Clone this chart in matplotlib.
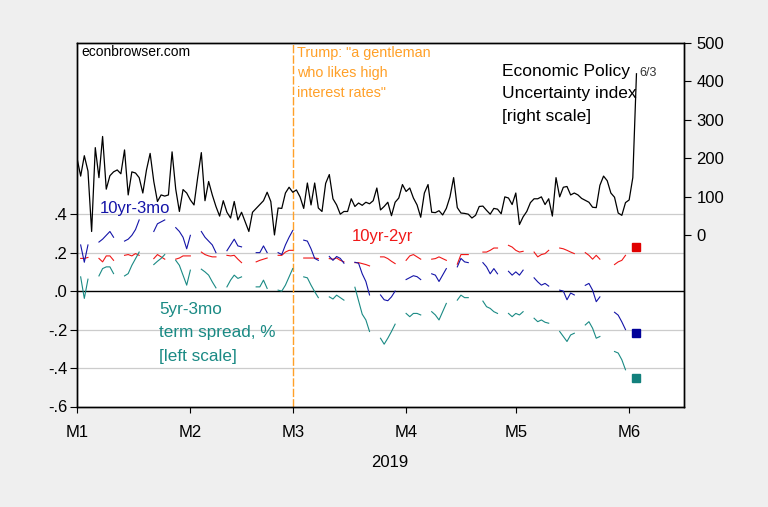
import numpy as np
import pandas as pd
import matplotlib
matplotlib.use('Agg')
import matplotlib.pyplot as plt

plt.rcParams['font.family'] = ['Liberation Sans', 'DejaVu Sans']

# Economic Policy Uncertainty index, daily, Jan 1 .. Jun 3 2019
epu = [201, 154, 207, 167, 10, 228, 150, 257, 120, 155,
       165, 170, 160, 222, 105, 165, 162, 150, 110, 170,
       213, 140, 88, 105, 102, 105, 217, 120, 62, 119,
       110, 92, 79, 150, 215, 90, 140, 105, 75, 50,
       90, 60, 45, 88, 40, 60, 35, 10, 60, 70,
       80, 90, 112, 88, 1, 71, 70, 110, 125, 112,
       118, 100, 70, 136, 79, 136, 71, 62, 135, 158,
       95, 79, 55, 62, 62, 95, 75, 84, 78, 86,
       82, 90, 123, 66, 75, 86, 51, 86, 97, 132,
       114, 123, 97, 79, 47, 110, 132, 60, 59, 64,
       53, 70, 100, 150, 72, 58, 57, 55, 45, 52,
       75, 76, 65, 55, 70, 68, 56, 100, 97, 80,
       110, 28, 48, 62, 85, 95, 95, 100, 80, 95,
       50, 150, 100, 125, 127, 105, 110, 105, 96, 91,
       86, 73, 72, 130, 154, 142, 110, 99, 58, 52,
       85, 92, 150, 420]
epu_start = '2019-01-01'

# term spreads, % (trading days Jan 2 .. May 31 2019)
holidays = ['2019-01-21', '2019-02-18', '2019-04-19', '2019-05-27']

t10y3m = [0.24, 0.15, 0.24,
          0.255, 0.27, 0.29, 0.31, 0.28,
          0.26, 0.27, 0.29, 0.32, 0.37,
          0.31, 0.35, 0.36, 0.37,
          0.33, 0.31, 0.28, 0.22, 0.29,
          0.31, 0.28, 0.26, 0.24, 0.20,
          0.21, 0.24, 0.27, 0.235, 0.23,
          0.20, 0.20, 0.235, 0.20,
          0.20, 0.19, 0.24, 0.28, 0.315,
          0.265, 0.26, 0.22, 0.17, 0.16,
          0.18, 0.16, 0.18, 0.17, 0.145,
          0.15, 0.145, 0.09, 0.05, -0.02,
          -0.02, -0.045, -0.05, -0.03, 0.0,
          0.06, 0.07, 0.08, 0.075, 0.06,
          0.09, 0.083, 0.05, 0.083, 0.117,
          0.126, 0.17, 0.152, 0.148,
          0.148, 0.126, 0.09, 0.117, 0.09,
          0.103, 0.083, 0.10, 0.083, 0.109,
          0.069, 0.048, 0.031, 0.04, 0.026,
          0.005, 0.0, -0.045, -0.01, -0.02,
          0.03, 0.04, 0.005, -0.055, -0.03,
          -0.11, -0.125, -0.16, -0.20]

t10y2y = [0.17, 0.17, 0.175,
          0.17, 0.152, 0.183, 0.183, 0.16,
          0.186, 0.19, 0.183, 0.195, 0.186,
          0.169, 0.19, 0.178, 0.166,
          0.166, 0.172, 0.183, 0.183, 0.183,
          0.203, 0.19, 0.183, 0.178, 0.178,
          0.186, 0.183, 0.186, 0.166, 0.148,
          0.152, 0.16, 0.166, 0.172,
          0.186, 0.186, 0.203, 0.212, 0.212,
          0.172, 0.172, 0.172, 0.172, 0.169,
          0.169, 0.166, 0.172, 0.16, 0.152,
          0.148, 0.148, 0.143, 0.138, 0.131,
          0.178, 0.178, 0.169, 0.155, 0.143,
          0.16, 0.183, 0.19, 0.178, 0.166,
          0.166, 0.169, 0.178, 0.169, 0.16,
          0.14, 0.19, 0.19, 0.19,
          0.203, 0.203, 0.212, 0.224, 0.224,
          0.238, 0.229, 0.212, 0.203, 0.207,
          0.203, 0.178, 0.19, 0.195, 0.212,
          0.224, 0.22, 0.212, 0.203, 0.195,
          0.20, 0.186, 0.166, 0.186, 0.166,
          0.138, 0.152, 0.16, 0.186]

t5y3m = [0.074, -0.038, 0.062,
         0.079, 0.117, 0.126, 0.126, 0.091,
         0.079, 0.091, 0.134, 0.169, 0.203,
         0.138, 0.155, 0.17, 0.19,
         0.16, 0.134, 0.083, 0.031, 0.109,
         0.114, 0.10, 0.083, 0.048, 0.017,
         0.022, 0.057, 0.083, 0.066, 0.074,
         0.022, 0.022, 0.057, 0.014,
         0.005, 0.0, 0.031, 0.074, 0.117,
         0.074, 0.069, 0.031, -0.003, -0.034,
         -0.03, -0.041, -0.021, -0.034, -0.047,
         0.02, -0.05, -0.12, -0.15, -0.21,
         -0.245, -0.276, -0.245, -0.21, -0.172,
         -0.116, -0.133, -0.116, -0.116, -0.124,
         -0.107, -0.124, -0.15, -0.107, -0.064,
         -0.047, -0.021, -0.034, -0.034,
         -0.052, -0.081, -0.09, -0.107, -0.116,
         -0.116, -0.133, -0.116, -0.124, -0.107,
         -0.141, -0.159, -0.15, -0.162, -0.167,
         -0.21, -0.236, -0.262, -0.228, -0.219,
         -0.176, -0.159, -0.193, -0.245, -0.236,
         -0.314, -0.322, -0.357, -0.409]

# Jun 3 readings, shown as squares
last_date = '2019-06-03'
last_10y3m = -0.22
last_10y2y = 0.23
last_5y3m = -0.45

month_labels = ['M1', 'M2', 'M3', 'M4', 'M5', 'M6']

c_blue = '#1414A8'
c_red = '#F01818'
c_teal = '#1A8A84'
c_orange = '#FFA028'

epu_dates = pd.date_range(epu_start, periods=len(epu), freq='D')
trade_dates = pd.bdate_range('2019-01-02', '2019-05-31').drop(pd.to_datetime(holidays))


def with_gaps(vals):
    # daily reindex -> NaN on weekends/holidays, so the line breaks there
    s = pd.Series(vals, index=trade_dates)
    full = s.reindex(pd.date_range(trade_dates[0], trade_dates[-1], freq='D'))
    return full.index, full.values


fig = plt.figure(figsize=(7.68, 5.07), dpi=100, facecolor='#EFEFEF')
ax = fig.add_axes([77/768, 1-406.5/507, 607/768, 363.5/507])
ax.set_facecolor('white')
ax2 = ax.twinx()

ax.set_ylim(-0.6, 1.29)
ax2.set_ylim(-445, 500)
ax.set_xlim(pd.Timestamp('2019-01-01'), pd.Timestamp('2019-06-16'))

for g in [-0.4, -0.2, 0.2, 0.4]:
    ax.axhline(g, color='#CCCCCC', lw=0.9, zorder=1)
ax.axhline(0, color='black', lw=1.0, zorder=2)

ax.axvline(pd.Timestamp('2019-03-01'), color=c_orange, lw=1.0,
           ls=(0, (6, 1.5)), zorder=2)

for vals, col in [(t10y2y, c_red), (t5y3m, c_teal), (t10y3m, c_blue)]:
    d, v = with_gaps(vals)
    ax.plot(d, v, color=col, lw=0.8, zorder=3)

for v, col in [(last_10y2y, '#E00000'), (last_10y3m, '#000099'), (last_5y3m, '#12807C')]:
    ax.plot([pd.Timestamp(last_date)], [v], marker='s', ms=5.5, color=col,
            ls='none', zorder=4)

ax2.plot(epu_dates, epu, color='black', lw=0.9, zorder=3)

# ticks
month_starts = pd.date_range('2019-01-01', periods=6, freq='MS')
ax.set_xticks(month_starts)
ax.set_xticklabels(month_labels)
ax.tick_params(axis='x', direction='out', length=4, pad=9, labelsize=12)
ax.set_yticks([-0.6, -0.4, -0.2, 0, 0.2, 0.4])
ax.set_yticklabels(['-.6', '-.4', '-.2', '.0', '.2', '.4'])
ax.tick_params(axis='y', direction='out', length=5, pad=2, labelsize=12)
ax2.set_yticks([0, 100, 200, 300, 400, 500])
ax2.tick_params(axis='y', direction='out', length=5, pad=4, labelsize=12)
for sp in list(ax.spines.values()) + list(ax2.spines.values()):
    sp.set_linewidth(1.0)
    sp.set_color('black')

ax.text(0.516, -0.155, '2019', transform=ax.transAxes, ha='center', va='center',
        fontsize=12)

# annotations
ax.text(0.0066, 0.974, 'econbrowser.com', transform=ax.transAxes, ha='left',
        va='center', fontsize=10)
ax.text(0.362, 0.9175, 'Trump: "a gentleman\nwho likes high\ninterest rates"',
        transform=ax.transAxes, ha='left', va='center', fontsize=10.4,
        color=c_orange, linespacing=1.55)
ax.text(0.6997, 0.8597, 'Economic Policy\nUncertainty index\n[right scale]',
        transform=ax.transAxes, ha='left', va='center', fontsize=12.5,
        linespacing=1.65)
ax.text(0.9407, 0.918, '6/3', transform=ax.transAxes, ha='center', va='center',
        fontsize=9, color='#333333')
ax.text(0.0367, 0.545, '10yr-3mo', transform=ax.transAxes, ha='left',
        va='center', fontsize=12, color=c_blue)
ax.text(0.4525, 0.469, '10yr-2yr', transform=ax.transAxes, ha='left',
        va='center', fontsize=12, color=c_red)
ax.text(0.1356, 0.203, '5yr-3mo\nterm spread, %\n[left scale]',
        transform=ax.transAxes, ha='left', va='center', fontsize=12.3,
        color=c_teal, linespacing=1.7)

fig.savefig('out.png', dpi=100, facecolor=fig.get_facecolor())
